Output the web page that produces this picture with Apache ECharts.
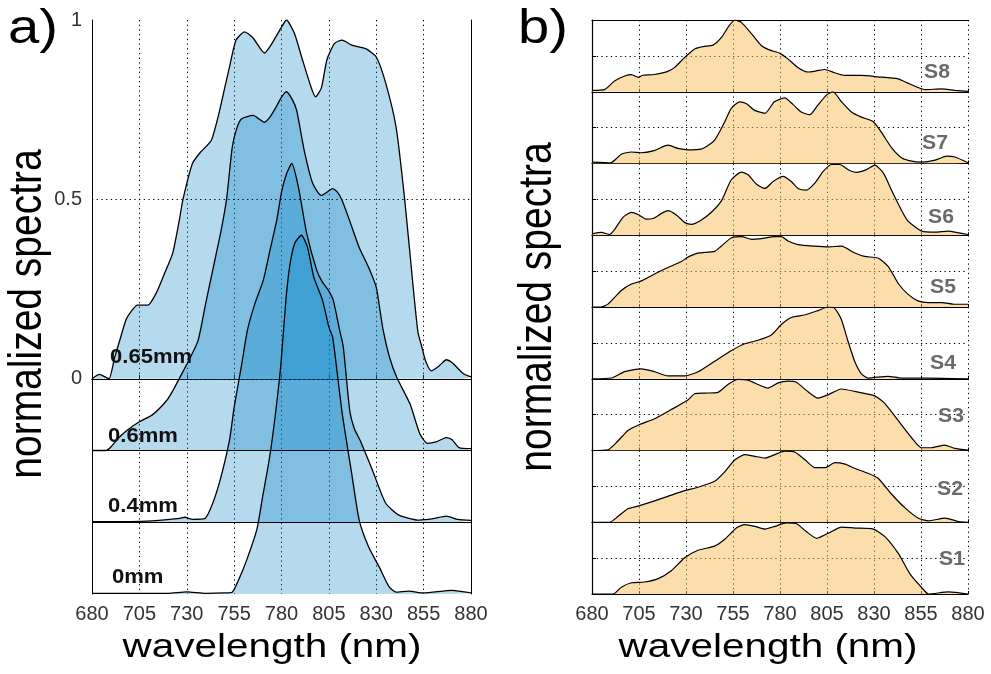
<!DOCTYPE html>
<html>
<head>
<meta charset="utf-8">
<script src="https://cdn.jsdelivr.net/npm/echarts@6/dist/echarts.min.js"></script>
<style>
  html, body { margin: 0; padding: 0; background: #fff; }
  #chart { width: 991px; height: 674px; }
</style>
</head>
<body>
<div id="chart"></div>
<script>
// ---- shared axis ticks ----
const wlTicks = [680, 705, 730, 755, 780, 805, 830, 855, 880];
const yTicksA = [0, 0.5, 1];

// ---- panel a: spectra vs. thickness, stacked with offsets ----
const thicknessLabels = ['0.65mm', '0.6mm', '0.4mm', '0mm'];
const offsetsA = [0, -0.2, -0.4, -0.6];

const wlA065 = [680, 684, 687, 689, 692, 694.7, 698, 701, 704, 709.5, 714, 718, 722.6, 726, 728, 733, 737, 743, 747, 750, 752.6, 756, 760.5, 765, 771, 775, 780, 782.6, 786.8, 791, 795.8, 798, 801, 804, 808, 812, 817, 824.5, 830, 835, 840.5, 845, 849.4, 852, 854, 856, 859, 863, 867, 870, 876, 880];
const valA065 = [0, 0.012, 0.005, 0.0, 0.06, 0.108, 0.165, 0.19, 0.205, 0.205, 0.24, 0.29, 0.35, 0.44, 0.50, 0.60, 0.63, 0.665, 0.74, 0.81, 0.87, 0.944, 0.967, 0.95, 0.908, 0.935, 0.98, 1.0, 0.963, 0.89, 0.81, 0.786, 0.81, 0.89, 0.935, 0.944, 0.93, 0.92, 0.897, 0.824, 0.70, 0.50, 0.26, 0.13, 0.09, 0.05, 0.022, 0.035, 0.053, 0.045, 0.014, 0.005];

const wlA06 = [680, 687, 690, 694, 698.4, 705, 712, 719.5, 723, 726, 731, 736, 740, 744, 748, 751, 754, 756.5, 759, 765, 771, 774, 777, 780, 782.6, 785.5, 788, 792, 796.5, 801, 804, 807, 809.5, 812, 816, 821, 826, 830, 832, 833.7, 837, 840.8, 847.8, 853, 857, 862, 867, 870, 873.7, 880];
const valA06 = [0, 0.0, 0.01, 0.035, 0.056, 0.08, 0.10, 0.14, 0.17, 0.20, 0.25, 0.307, 0.41, 0.51, 0.61, 0.70, 0.845, 0.90, 0.925, 0.934, 0.915, 0.93, 0.956, 0.985, 1.0, 0.98, 0.948, 0.836, 0.744, 0.711, 0.72, 0.73, 0.72, 0.697, 0.64, 0.566, 0.51, 0.455, 0.39, 0.334, 0.26, 0.204, 0.13, 0.047, 0.02, 0.025, 0.036, 0.03, 0.008, 0.005];

const wlA04 = [680, 700, 712, 725, 729, 733, 739.5, 743.7, 748, 752.6, 755, 759, 762, 766, 770.4, 774, 777.5, 780, 782.7, 785.4, 788.9, 793.3, 798.6, 801.5, 804.7, 807.3, 810.7, 812.6, 816, 818.5, 821.4, 828, 835, 842, 852.6, 860, 867, 873, 880];
const valA04 = [0.002, 0.002, 0.004, 0.01, 0.014, 0.008, 0.01, 0.053, 0.125, 0.23, 0.32, 0.44, 0.535, 0.61, 0.675, 0.76, 0.842, 0.92, 0.972, 1.0, 0.935, 0.805, 0.702, 0.67, 0.647, 0.619, 0.535, 0.489, 0.312, 0.26, 0.229, 0.145, 0.053, 0.02, 0.006, 0.01, 0.017, 0.008, 0.005];

const wlA0 = [680, 720, 730, 740, 750, 754, 758, 762, 767, 770, 773.7, 777, 779.5, 781, 782.5, 784.5, 787, 790.5, 793.7, 797, 801.6, 805, 807, 812, 817, 821, 826, 831.6, 836.8, 840.5, 847, 855, 870, 880];
const valA0 = [0.002, 0.002, 0.006, 0.002, 0.003, 0.005, 0.047, 0.10, 0.18, 0.27, 0.38, 0.51, 0.63, 0.73, 0.83, 0.92, 0.978, 1.0, 0.967, 0.884, 0.82, 0.744, 0.716, 0.505, 0.337, 0.206, 0.131, 0.075, 0.02, 0.005, 0.008, 0.003, 0.01, 0.003];

// ---- panel b: samples S1..S8 (top to bottom: S8 .. S1) ----
const sampleNames = ['S8', 'S7', 'S6', 'S5', 'S4', 'S3', 'S2', 'S1'];

const wlS8 = [680, 686.7, 692, 697.4, 701, 704.6, 707, 713, 720, 724, 729.4, 734.8, 739, 744.4, 749, 752.5, 756, 759.4, 764.8, 770, 774.7, 780, 784.3, 789.6, 795, 799.3, 803.8, 809, 814.4, 823.2, 832, 842.8, 848, 853.3, 857, 866, 873, 880];
const valS8 = [0.02, 0.03, 0.15, 0.22, 0.24, 0.20, 0.23, 0.24, 0.28, 0.34, 0.48, 0.60, 0.63, 0.65, 0.76, 0.905, 1.0, 0.967, 0.81, 0.645, 0.58, 0.535, 0.455, 0.336, 0.275, 0.29, 0.31, 0.265, 0.227, 0.227, 0.208, 0.18, 0.12, 0.06, 0.03, 0.04, 0.02, 0.005];

const wlS7 = [680, 690, 695.6, 701, 706, 713, 720.4, 725.7, 731, 738, 745, 750.5, 754, 758.5, 762, 766.5, 772, 777, 782.5, 787, 791.3, 795.8, 800, 804.7, 808.2, 812.7, 818, 823.3, 829.5, 834, 839.3, 844.6, 850, 855.4, 862.5, 868.7, 873, 880];
const valS7 = [0.02, 0.01, 0.13, 0.16, 0.15, 0.18, 0.255, 0.21, 0.19, 0.20, 0.32, 0.575, 0.765, 0.86, 0.835, 0.74, 0.70, 0.86, 0.915, 0.82, 0.717, 0.68, 0.81, 0.953, 1.0, 0.86, 0.717, 0.646, 0.585, 0.434, 0.22, 0.08, 0.033, 0.02, 0.047, 0.104, 0.09, 0.01];

const wlS6 = [680, 685, 689.4, 692, 696.5, 701, 704.5, 709, 712.5, 717, 720.4, 725, 729.4, 733, 738, 743.5, 749, 754, 759.5, 763, 767.4, 772, 776.3, 781.6, 786, 789.6, 794, 798.4, 803, 807.4, 811.8, 816.3, 820.7, 826, 830.4, 835, 839.3, 843.8, 848, 855.4, 862.5, 869.5, 875, 880];
const valS6 = [0.02, 0.04, 0.01, 0.08, 0.25, 0.32, 0.29, 0.224, 0.233, 0.305, 0.343, 0.28, 0.176, 0.152, 0.21, 0.32, 0.486, 0.77, 0.88, 0.843, 0.714, 0.652, 0.748, 0.82, 0.748, 0.652, 0.63, 0.724, 0.89, 0.986, 0.986, 0.914, 0.876, 0.914, 0.976, 0.867, 0.63, 0.39, 0.2, 0.057, 0.043, 0.057, 0.033, 0.01];

const wlS5 = [680, 685, 688.5, 695.6, 701, 706, 713, 720.4, 727.5, 731, 736.3, 745.2, 748.7, 754, 759.5, 765, 770, 777, 780.7, 784.3, 789.6, 798.4, 805.5, 812.7, 819.8, 825, 832.3, 837.6, 843, 848, 853.4, 858.8, 866, 873, 880];
const valS5 = [0, 0, 0.04, 0.23, 0.32, 0.36, 0.457, 0.55, 0.633, 0.695, 0.752, 0.776, 0.847, 0.962, 0.98, 0.943, 0.952, 0.98, 0.98, 0.92, 0.87, 0.848, 0.838, 0.848, 0.752, 0.705, 0.68, 0.562, 0.324, 0.18, 0.086, 0.062, 0.062, 0.038, 0.038];

const wlS4 = [680, 690.3, 697.4, 706.2, 713.3, 720.4, 729.3, 736.4, 745.2, 754, 761.2, 768.3, 775.4, 780.7, 786, 793, 800.2, 805.5, 809, 812.6, 816, 819.7, 823.2, 826.8, 837.4, 844.5, 858.7, 880];
const valS4 = [0, 0.01, 0.1, 0.137, 0.098, 0.04, 0.04, 0.098, 0.244, 0.39, 0.488, 0.536, 0.61, 0.756, 0.854, 0.888, 0.95, 1.0, 0.985, 0.83, 0.537, 0.244, 0.073, 0.01, 0.034, 0.01, 0.01, 0.0];

const wlS3 = [680, 688.5, 693.8, 699, 705.3, 713.3, 722.2, 731, 734.6, 740, 747, 752.3, 757.6, 763, 768.3, 773.6, 779, 784.3, 788.7, 794, 800.2, 805.5, 812.6, 819.7, 830.4, 835.7, 842.8, 849.9, 855.2, 860.5, 867.6, 873, 880];
const valS3 = [0, 0.01, 0.133, 0.276, 0.362, 0.443, 0.571, 0.705, 0.79, 0.80, 0.81, 0.92, 0.99, 0.98, 0.92, 0.87, 0.943, 0.967, 0.952, 0.838, 0.73, 0.776, 0.857, 0.824, 0.762, 0.657, 0.419, 0.181, 0.038, 0.038, 0.076, 0.029, 0.005];

const wlS2 = [680, 689.4, 693.8, 699.1, 704.5, 713.3, 722.2, 729.3, 736.4, 745.2, 750.6, 756, 761.3, 766.6, 772, 777.3, 782.6, 788, 793.3, 798.6, 804, 809.2, 814.6, 819.9, 827, 832.3, 839.4, 846.5, 853.6, 859, 867.8, 875, 880];
const valS2 = [0, 0, 0.08, 0.187, 0.225, 0.297, 0.378, 0.44, 0.488, 0.57, 0.703, 0.87, 0.943, 0.919, 0.895, 0.943, 0.99, 0.976, 0.87, 0.76, 0.76, 0.83, 0.81, 0.75, 0.68, 0.61, 0.39, 0.2, 0.057, 0.019, 0.057, 0.01, 0];

const wlS1 = [680, 691.2, 695.6, 701, 708, 715.2, 722.2, 729.3, 736.4, 745.2, 750.6, 756.8, 761.2, 766.6, 772, 777.3, 783.5, 788.8, 794, 799.5, 805.7, 812.8, 819.9, 829.6, 835.8, 843, 849.2, 855.5, 859, 869.7, 880];
const valS1 = [0, 0, 0.095, 0.157, 0.167, 0.214, 0.324, 0.505, 0.61, 0.667, 0.762, 0.92, 0.967, 0.943, 0.905, 0.943, 0.99, 0.98, 0.87, 0.776, 0.848, 0.933, 0.919, 0.905, 0.8, 0.562, 0.276, 0.086, 0.0, 0.029, 0];

const curvesA = [
  { wl: wlA065, val: valA065 },
  { wl: wlA06, val: valA06 },
  { wl: wlA04, val: valA04 },
  { wl: wlA0, val: valA0 }
];
const curvesB = [
  { wl: wlS8, val: valS8 }, { wl: wlS7, val: valS7 },
  { wl: wlS6, val: valS6 }, { wl: wlS5, val: valS5 },
  { wl: wlS4, val: valS4 }, { wl: wlS3, val: valS3 },
  { wl: wlS2, val: valS2 }, { wl: wlS1, val: valS1 }
];

// ---- styling ----
const FONT = '"Liberation Sans", Arial, sans-serif';
const DOT = [1.3, 3.4];
const blueFill = 'rgba(0,127,196,0.29)';
const orangeFill = 'rgba(250,190,92,0.5)';
const tickMin = wlTicks[0], tickMax = wlTicks[wlTicks.length - 1], tickStep = wlTicks[1] - wlTicks[0];

const zip = (w, v, off) => w.map((x, i) => [x, v[i] + off]);
const near = (a, b) => Math.abs(a - b) < 1e-6;

const grid = [];
const xAxis = [];
const yAxis = [];
const series = [];

// panel a grid
grid.push({ left: 92, top: 20, width: 379, height: 574 });
xAxis.push({
  type: 'value', gridIndex: 0, min: tickMin, max: tickMax, interval: tickStep,
  axisLine: { lineStyle: { color: '#000', width: 1 } },
  axisTick: { inside: true, length: 4, lineStyle: { color: '#000' } },
  axisLabel: { color: '#333', fontFamily: FONT, fontSize: 20, margin: 10 },
  splitLine: { show: true, lineStyle: { color: '#000', type: DOT, width: 1 } }
});
xAxis.push({
  type: 'value', gridIndex: 0, position: 'top', min: tickMin, max: tickMax,
  axisLine: { show: true, lineStyle: { color: '#000' } },
  axisTick: { show: false }, axisLabel: { show: false }, splitLine: { show: false }
});
yAxis.push({
  type: 'value', gridIndex: 0, min: offsetsA[offsetsA.length - 1], max: 1, interval: 0.1,
  axisLine: { show: true, lineStyle: { color: '#000', width: 1 } },
  axisTick: { show: false },
  axisLabel: {
    color: '#333', fontFamily: FONT, fontSize: 20, margin: 10,
    formatter: v => { const t = yTicksA.find(k => near(k, v)); return t === undefined ? '' : String(t); }
  },
  splitLine: { show: false }
});
yAxis.push({
  type: 'value', gridIndex: 0, position: 'right', min: offsetsA[offsetsA.length - 1], max: 1,
  axisLine: { show: true, lineStyle: { color: '#000' } },
  axisTick: { show: false }, axisLabel: { show: false }, splitLine: { show: false }
});

// panel a fills (translucent, overlapping darkens)
curvesA.forEach((c, i) => {
  series.push({
    type: 'line', xAxisIndex: 0, yAxisIndex: 0, z: 2,
    data: zip(c.wl, c.val, offsetsA[i]),
    smooth: 0.2, symbol: 'none', silent: true,
    lineStyle: { width: 0, opacity: 0 },
    areaStyle: { color: blueFill, origin: offsetsA[i], opacity: 1 }
  });
});
// panel a outlines
curvesA.forEach((c, i) => {
  const s = {
    type: 'line', xAxisIndex: 0, yAxisIndex: 0, z: 3,
    data: zip(c.wl, c.val, offsetsA[i]),
    smooth: 0.2, symbol: 'none', silent: true,
    lineStyle: { color: '#000', width: 1.3 }
  };
  if (i === curvesA.length - 1) {
    s.markLine = {
      silent: true, symbol: ['none', 'none'], label: { show: false }, animation: false,
      data: [
        ...offsetsA.slice(1, -1).map(o => ({ yAxis: o, lineStyle: { color: '#000', type: 'solid', width: 1.2 } })),
        ...yTicksA.slice(0, 2).map(o => ({ yAxis: o, lineStyle: { color: '#000', type: DOT, width: 1 } }))
      ]
    };
  }
  series.push(s);
});

// panel b: one small axis per sample
const stripTop = 20, stripH = 71.75;
curvesB.forEach((c, i) => {
  const gi = i + 1;
  const last = i === curvesB.length - 1;
  grid.push({ left: 592, top: stripTop + i * stripH, width: 376, height: stripH });
  const xi = xAxis.length;
  xAxis.push({
    type: 'value', gridIndex: gi, min: tickMin, max: tickMax, interval: tickStep,
    axisLine: { show: true, lineStyle: { color: '#000', width: 1.2 } },
    axisTick: { show: true, inside: true, length: 3, lineStyle: { color: '#000' } },
    axisLabel: { show: last, color: '#333', fontFamily: FONT, fontSize: 20, margin: 10 },
    splitLine: { show: true, lineStyle: { color: '#000', type: DOT, width: 1 } }
  });
  if (i === 0) {
    xAxis.push({
      type: 'value', gridIndex: gi, position: 'top', min: tickMin, max: tickMax,
      axisLine: { show: true, lineStyle: { color: '#000', width: 1.2 } },
      axisTick: { show: false }, axisLabel: { show: false }, splitLine: { show: false }
    });
  }
  const yi = yAxis.length;
  yAxis.push({
    type: 'value', gridIndex: gi, min: 0, max: 1, interval: 0.5,
    axisLine: { show: true, lineStyle: { color: '#000', width: 1.2 } },
    axisTick: { show: true, inside: true, length: 4, lineStyle: { color: '#000' } },
    axisLabel: { show: false },
    splitLine: { show: true, lineStyle: { color: '#000', type: DOT, width: 1 } }
  });
  series.push({
    type: 'line', xAxisIndex: xi, yAxisIndex: yi, z: 2,
    data: zip(c.wl, c.val, 0),
    smooth: 0.2, symbol: 'none', silent: true,
    lineStyle: { color: '#000', width: 1.2 },
    areaStyle: { color: orangeFill, origin: 'start', opacity: 1 }
  });
});

// ---- text ----
function text(str, x, y, font, opts = {}) {
  const { style = {}, ...rest } = opts;
  return Object.assign({ type: 'text', x, y, z: 100, silent: true }, rest, {
    style: Object.assign({
      text: str, font, fill: '#000',
      align: 'left', textAlign: 'left', verticalAlign: 'middle', textVerticalAlign: 'middle'
    }, style)
  });
}
const centered = { align: 'center', textAlign: 'center' };

const labelPosA = [[110, 357], [108, 436], [108, 506], [112, 577]];
const labelPosB = [[937, 72], [935, 143], [941, 217], [943, 287], [943, 363], [951, 416], [950, 489], [952, 559]];

const graphic = [
  text('a)', 8, 30, '48px ' + FONT, { scaleX: 1.17 }),
  text('b)', 518, 30, '48px ' + FONT, { scaleX: 1.17 }),
  text('wavelength (nm)', 272, 648, '34px ' + FONT, { scaleX: 1.19, style: centered }),
  text('wavelength (nm)', 768, 648, '34px ' + FONT, { scaleX: 1.19, style: centered }),
  text('normalized spectra', 28, 314, '39px ' + FONT, { rotation: Math.PI / 2, scaleY: 1.17, style: centered }),
  text('normalized spectra', 538, 307, '39px ' + FONT, { rotation: Math.PI / 2, scaleY: 1.17, style: centered }),
  ...thicknessLabels.map((t, i) => text(t, labelPosA[i][0], labelPosA[i][1], 'bold 21px ' + FONT, { scaleX: 1.05, style: { fill: '#111' } })),
  ...sampleNames.map((t, i) => text(t, labelPosB[i][0], labelPosB[i][1], 'bold 20px ' + FONT, { scaleX: 1.06, style: Object.assign({ fill: '#6a6a6a' }, centered) }))
];

const chart = echarts.init(document.getElementById('chart'), null, { renderer: 'canvas' });
chart.setOption({
  animation: false,
  backgroundColor: '#fff',
  grid: grid.map(g => Object.assign({ outerBoundsMode: 'none' }, g)),
  xAxis, yAxis, series, graphic
});
</script>
</body>
</html>
